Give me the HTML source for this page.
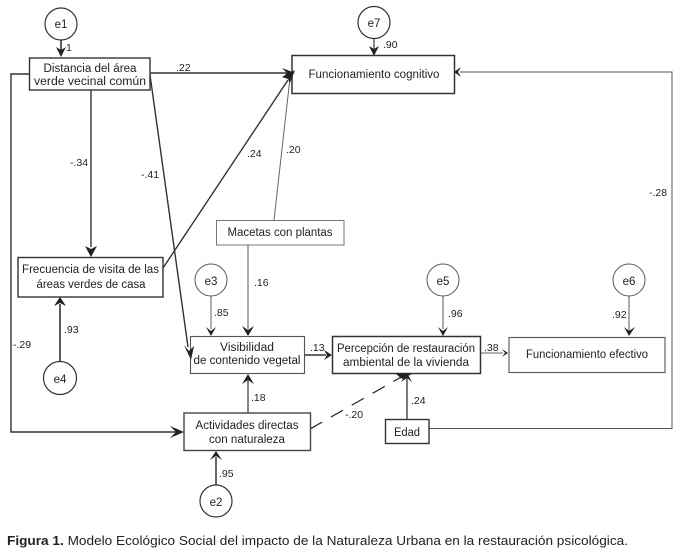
<!DOCTYPE html>
<html><head><meta charset="utf-8"><style>
html,body{margin:0;padding:0;background:#fff}
svg{display:block}
text{font-family:"Liberation Sans",sans-serif;font-size:11.5px;fill:#222}
.c{text-anchor:middle}
.l{font-size:10.5px}
</style></head><body>
<svg width="681" height="556" viewBox="0 0 681 556" xmlns="http://www.w3.org/2000/svg">
<g fill="none" stroke="#333">
<!-- connectors -->
<path d="M61 40V53" stroke-width="1.6"/>
<path d="M150 73H288" stroke-width="1.6"/>
<path d="M150 75L188 347" stroke-width="1.4"/>
<path d="M91 90V247" stroke-width="1.4"/>
<path d="M29 74H11V432H176" stroke-width="1.4"/>
<path d="M163 268L288 80" stroke-width="1.4"/>
<path d="M274 220L290 78" stroke="#666" stroke-width="1"/>
<path d="M248 245V329" stroke="#555" stroke-width="1"/>
<path d="M211 296V329" stroke="#777" stroke-width="1.2"/>
<path d="M60 361V304" stroke-width="1.6"/>
<path d="M248 413V380" stroke="#444" stroke-width="1.3"/>
<path d="M216 485V457" stroke="#444" stroke-width="1.6"/>
<path d="M304 355H326" stroke-width="1.5"/>
<path d="M480 353H503" stroke="#666" stroke-width="1"/>
<path d="M443 296V329" stroke="#555" stroke-width="1"/>
<path d="M629 296V331" stroke="#555" stroke-width="1"/>
<path d="M374 38V50" stroke="#555" stroke-width="1.4"/>
<path d="M310 429L403 376" stroke-width="1.3" stroke-dasharray="14 10"/>
<path d="M407 419V378" stroke="#444" stroke-width="1.4"/>
<path d="M429 428.500H672V72H460" stroke="#555" stroke-width="1"/>
<!-- boxes -->
<rect x="29.5" y="58" width="120.5" height="32" stroke-width="1.4" fill="#fff"/>
<rect x="292" y="55.5" width="162.5" height="38" stroke-width="1.5" fill="#fff"/>
<rect x="216.5" y="220.5" width="127.5" height="24.5" stroke="#777" stroke-width="1" fill="#fff"/>
<rect x="18" y="257.5" width="145" height="39.5" stroke-width="1.4" fill="#fff"/>
<rect x="190.5" y="336.5" width="114" height="37" stroke="#555" stroke-width="1.1" fill="#fff"/>
<rect x="332.5" y="336.5" width="148" height="37" stroke-width="1.5" fill="#fff"/>
<rect x="509" y="337.5" width="156" height="35" stroke="#555" stroke-width="1.1" fill="#fff"/>
<rect x="184" y="413" width="126.5" height="37.5" stroke="#444" stroke-width="1.4" fill="#fff"/>
<rect x="385.5" y="419.5" width="43.5" height="24" stroke-width="1.4" fill="#fff"/>
<!-- latent -->
<circle cx="61" cy="24" r="16" stroke-width="1.2" fill="#fff"/>
<circle cx="374" cy="22.5" r="16" stroke-width="1.2" fill="#fff"/>
<circle cx="211" cy="280" r="16" stroke="#555" stroke-width="1" fill="#fff"/>
<circle cx="443" cy="280" r="16" stroke="#555" stroke-width="1" fill="#fff"/>
<circle cx="629" cy="280" r="16" stroke="#555" stroke-width="1" fill="#fff"/>
<circle cx="60" cy="378" r="16.5" stroke-width="1.2" fill="#fff"/>
<circle cx="216" cy="501" r="16" stroke-width="1.2" fill="#fff"/>
</g>
<!-- arrowheads -->
<g fill="#222">
<path d="M56 47L61 50L66 47L61 57Z"/>
<path d="M369 46L374 49L379 46L374 56Z"/>
<path d="M282 68L287 73L282 78L295 73Z"/>
<path d="M282 77L288 79L290 83L295 70Z"/>
<path d="M85 246L91 249L97 246L91 257Z"/>
<path d="M170 426L176 432L170 438L184 432Z"/>
<path d="M54 306L60 303L66 306L60 297Z"/>
<path d="M206 327L211 331L216 327L211 336Z"/>
<path d="M242 326L248 330L254 326L248 336Z"/>
<path d="M184 345L189 351L194 346L191 360Z"/>
<path d="M242 384L248 380L254 384L248 374Z"/>
<path d="M210 460L216 456L222 460L216 451Z"/>
<path d="M324 350L327 355L324 360L332 355Z"/>
<path d="M502 349L505 353L502 357L508 353Z"/>
<path d="M438 327L443 331L448 327L443 336Z"/>
<path d="M624 327L629 331L635 327L629 336Z"/>
<path d="M395 373L402 379L412 374Z"/>
<path d="M401 382L407 378L412 382L407 373Z"/>
<path d="M461 67L458 72L461 77L454 72Z"/>
</g>
<!-- node labels -->
<text class="c" x="61" y="28">e1</text>
<text class="c" x="374" y="27">e7</text>
<text class="c" x="211" y="285">e3</text>
<text class="c" x="443" y="285">e5</text>
<text class="c" x="629" y="285">e6</text>
<text class="c" x="60" y="383">e4</text>
<text class="c" x="216" y="506">e2</text>
<text class="c" x="90" y="72" textLength="93" lengthAdjust="spacingAndGlyphs">Distancia del área</text>
<text class="c" x="90" y="85" textLength="112" lengthAdjust="spacingAndGlyphs">verde vecinal común</text>
<text class="c" x="374" y="78" textLength="131" lengthAdjust="spacingAndGlyphs">Funcionamiento cognitivo</text>
<text class="c" x="280" y="236" textLength="105" lengthAdjust="spacingAndGlyphs">Macetas con plantas</text>
<text class="c" x="90.500" y="273" textLength="137" lengthAdjust="spacingAndGlyphs">Frecuencia de visita de las</text>
<text class="c" x="91" y="288" textLength="109" lengthAdjust="spacingAndGlyphs">áreas verdes de casa</text>
<text class="c" x="247" y="351" textLength="54" lengthAdjust="spacingAndGlyphs">Visibilidad</text>
<text class="c" x="247" y="364" textLength="107" lengthAdjust="spacingAndGlyphs">de contenido vegetal</text>
<text class="c" x="406" y="352" textLength="138" lengthAdjust="spacingAndGlyphs">Percepción de restauración</text>
<text class="c" x="406" y="366" textLength="126" lengthAdjust="spacingAndGlyphs">ambiental de la vivienda</text>
<text class="c" x="587" y="358" textLength="122" lengthAdjust="spacingAndGlyphs">Funcionamiento efectivo</text>
<text class="c" x="247" y="429" textLength="103" lengthAdjust="spacingAndGlyphs">Actividades directas</text>
<text class="c" x="247" y="443" textLength="76" lengthAdjust="spacingAndGlyphs">con naturaleza</text>
<text class="c" x="407" y="436" textLength="26" lengthAdjust="spacingAndGlyphs">Edad</text>
<!-- path labels -->
<text class="l" x="66" y="51">1</text>
<text class="l" x="176" y="71">.22</text>
<text class="l" x="383" y="48">.90</text>
<text class="l" x="70" y="166">-.34</text>
<text class="l" x="141" y="178">-.41</text>
<text class="l" x="247" y="157">.24</text>
<text class="l" x="286" y="153">.20</text>
<text class="l" x="254" y="286">.16</text>
<text class="l" x="214" y="316">.85</text>
<text class="l" x="448" y="317">.96</text>
<text class="l" x="612" y="318">.92</text>
<text class="l" x="64" y="333">.93</text>
<text class="l" x="13" y="348">-.29</text>
<text class="l" x="310" y="351">.13</text>
<text class="l" x="484" y="351">.38</text>
<text class="l" x="251" y="401">.18</text>
<text class="l" x="219" y="477">.95</text>
<text class="l" x="345" y="418">-.20</text>
<text class="l" x="411" y="404">.24</text>
<text class="l" x="649" y="196">-.28</text>
<!-- caption -->
<text x="7" y="545" style="font-size:13px" textLength="621" lengthAdjust="spacingAndGlyphs"><tspan font-weight="bold">Figura 1.</tspan> Modelo Ecológico Social del impacto de la Naturaleza Urbana en la restauración psicológica.</text>
</svg>
</body></html>
